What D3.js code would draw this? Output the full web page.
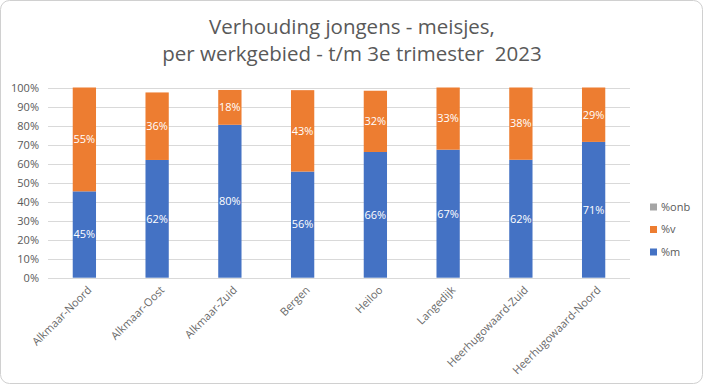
<!DOCTYPE html>
<html>
<head>
<meta charset="utf-8">
<script src="https://cdn.jsdelivr.net/npm/d3@7"></script>
<style>
  body { margin: 0; background: #fff; }
  svg { font-family: "Open Sans", sans-serif; }
</style>
</head>
<body>
<div id="app"></div>
<script>
const width = 704;
const height = 387;

const categories = ["Alkmaar-Noord", "Alkmaar-Oost", "Alkmaar-Zuid", "Bergen", "Heiloo", "Langedijk", "Heerhugowaard-Zuid", "Heerhugowaard-Noord"];
const pctM = [45.4, 61.9, 80.4, 55.8, 66.1, 67.3, 62.0, 71.4];
const pctV = [54.6, 35.5, 18.3, 42.8, 32.2, 32.7, 38.0, 28.6];
const pctOnb = [0, 0, 0, 0, 0, 0, 0, 0];
const yTicks = [0, 10, 20, 30, 40, 50, 60, 70, 80, 90, 100];
const titleLines = ["Verhouding jongens - meisjes,", "per werkgebied - t/m 3e trimester  2023"];

const seriesNames = ["%m", "%v", "%onb"];
const colors = { "%m": "#4472c4", "%v": "#ed7d31", "%onb": "#a5a5a5" };

const rows = categories.map((c, i) => ({ cat: c, "%m": pctM[i], "%v": pctV[i], "%onb": pctOnb[i] }));
const stacked = d3.stack().keys(seriesNames)(rows);

const svg = d3.select("#app").append("svg")
  .attr("width", width)
  .attr("height", height);

// chart frame
svg.append("rect")
  .attr("x", 0.5).attr("y", 0.5)
  .attr("width", width - 2).attr("height", height - 4)
  .attr("rx", 9)
  .attr("fill", "#fff")
  .attr("stroke", "#d0d0d0");

// title
svg.append("g").selectAll("text")
  .data(titleLines)
  .join("text")
  .attr("x", 352)
  .attr("y", (d, i) => 34 + i * 27)
  .attr("text-anchor", "middle")
  .attr("font-size", 20.5)
  .attr("fill", "#595959")
  .style("white-space", "pre")
  .text(d => d);

const x = d3.scaleBand().domain(categories).range([48, 630]).paddingInner(0.68).paddingOuter(0.34);
const y = d3.scaleLinear().domain([0, 100]).range([277.7, 87.5]);

// gridlines
svg.append("g").selectAll("line")
  .data(yTicks)
  .join("line")
  .attr("x1", 48).attr("x2", 630)
  .attr("y1", d => Math.round(y(d)) + 0.5)
  .attr("y2", d => Math.round(y(d)) + 0.5)
  .attr("stroke", "#d9d9d9");

// y axis
const yAxis = svg.append("g")
  .attr("transform", "translate(39,0)")
  .call(d3.axisLeft(y).tickValues(yTicks).tickSize(0).tickPadding(0).tickFormat(d => d + "%"));
yAxis.select(".domain").remove();
yAxis.selectAll("text").attr("font-size", 11).attr("fill", "#595959").attr("font-family", "Open Sans, sans-serif");

// bars
const layers = svg.append("g").selectAll("g")
  .data(stacked)
  .join("g")
  .attr("fill", d => colors[d.key]);

layers.selectAll("rect")
  .data(d => d)
  .join("rect")
  .attr("x", d => x(d.data.cat))
  .attr("width", x.bandwidth())
  .attr("y", d => y(d[1]))
  .attr("height", d => y(d[0]) - y(d[1]));

// data labels
layers.selectAll("text")
  .data(d => d.filter(v => v[1] - v[0] > 0))
  .join("text")
  .attr("x", d => x(d.data.cat) + x.bandwidth() / 2)
  .attr("y", d => y((d[0] + d[1]) / 2))
  .attr("dy", "0.35em")
  .attr("text-anchor", "middle")
  .attr("font-size", 11)
  .attr("fill", "#fff")
  .text(d => Math.round(d[1] - d[0]) + "%");

// x axis labels
const xAxis = svg.append("g")
  .attr("transform", `translate(0,${y(0)})`)
  .call(d3.axisBottom(x).tickSize(0).tickPadding(0));
xAxis.select(".domain").remove();
xAxis.selectAll("text")
  .attr("font-size", 11)
  .attr("fill", "#6a6a6a")
  .attr("font-family", "Open Sans, sans-serif")
  .attr("text-anchor", "end")
  .attr("dy", null)
  .attr("y", 0)
  .attr("transform", "translate(8,13) rotate(-45)");

// legend
const legend = svg.append("g").selectAll("g")
  .data(seriesNames.slice().reverse())
  .join("g")
  .attr("transform", (d, i) => `translate(650,${207 + i * 22.5})`);
legend.append("rect")
  .attr("x", 0).attr("y", -3.5)
  .attr("width", 7).attr("height", 7)
  .attr("fill", d => colors[d]);
legend.append("text")
  .attr("x", 11)
  .attr("dy", "0.35em")
  .attr("font-size", 11)
  .attr("fill", "#595959")
  .text(d => d);
</script>
</body>
</html>
